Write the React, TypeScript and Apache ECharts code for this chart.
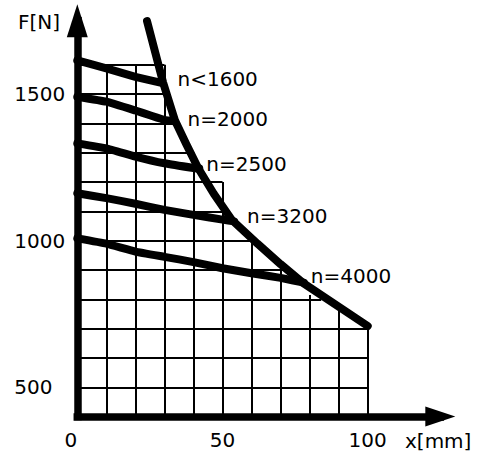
import React, { useEffect, useRef } from "react";
import * as echarts from "echarts";

// ---- data (x in mm, F in N) ----
const curveNames = ["n<1600", "n=2000", "n=2500", "n=3200", "n=4000"];

const n1600X = [0, 10, 20, 29];
const n1600Y = [1615, 1588, 1559, 1538];

const n2000X = [0, 10, 20, 25, 30, 33.5];
const n2000Y = [1491, 1474, 1444, 1428, 1412, 1407];

const n2500X = [0, 10, 20, 30, 40, 42];
const n2500Y = [1332, 1315, 1287, 1264, 1248, 1246];

const n3200X = [0, 10, 20, 30, 40, 50, 54];
const n3200Y = [1162, 1145, 1126, 1105, 1088, 1072, 1066];

const n4000X = [0, 10, 20, 30, 40, 50, 60, 70, 78];
const n4000Y = [1008, 990, 963, 945, 927, 906, 889, 873, 857];

const limitX = [24, 29.5, 33.6, 37.5, 41.6, 47, 53.3, 62, 70, 77.7, 100];
const limitY = [1749, 1541, 1411, 1330, 1248, 1160, 1070, 990, 920, 856, 709];

// grid: vertical lines (x) with their top value, horizontal lines (F) with their right end
const gridXs = [10, 20, 30, 40, 50, 60, 70, 80, 90, 100];
const gridXTops = [1600, 1600, 1600, 1300, 1200, 1000, 900, 815, 765, 709];
const gridYs = [500, 600, 700, 800, 900, 1000, 1100, 1200, 1300, 1400, 1500, 1600];
const gridYRights = [100, 100, 100, 84, 72, 60, 50, 50, 40, 35, 30, 30];

const xTickLabels = [0, 50, 100];
const yTickLabels = [500, 1000, 1500];

// ---- style ----
const FONT = "DejaVu Sans";
const labelOffsets: number[][] = [
  [16, -4],
  [13, -2],
  [7, -5],
  [13, -5],
  [7, -7],
];

const curvesX = [n1600X, n2000X, n2500X, n3200X, n4000X];
const curvesY = [n1600Y, n2000Y, n2500Y, n3200Y, n4000Y];

export default function App() {
  const ref = useRef<HTMLDivElement>(null);

  useEffect(() => {
    if (!ref.current) return;
    const chart = echarts.init(ref.current, undefined, { renderer: "svg" });

    const gridSegments = [
      ...gridXs.map((x, i) => ({ coords: [[x, 400], [x, gridXTops[i]]] })),
      ...gridYs.map((y, i) => ({ coords: [[0, y], [gridYRights[i], y]] })),
    ];

    const curveSeries = curveNames.map((name, k) => ({
      type: "line",
      name,
      data: curvesX[k].map((x, i) => [x, curvesY[k][i]]),
      symbol: "none",
      showSymbol: false,
      smooth: 0.1,
      lineStyle: { color: "#000", width: 8, cap: "round", join: "round" },
      z: 3,
      silent: true,
    }));

    const labelData = curveNames.map((name, k) => {
      const xs = curvesX[k];
      const ys = curvesY[k];
      return {
        name,
        value: [xs[xs.length - 1], ys[ys.length - 1]],
        label: { offset: labelOffsets[k] },
      };
    });

    const textStyle = { fontSize: 20, fontFamily: FONT, color: "#000" };

    const option: any = {
      animation: false,
      backgroundColor: "#fff",
      grid: { left: 77.3, top: 20.8, width: 363, height: 395.8, containLabel: false },
      xAxis: {
        type: "value",
        min: 0,
        max: 125,
        axisLine: {
          show: true,
          onZero: false,
          symbol: ["none", "triangle"],
          symbolSize: [20, 30],
          lineStyle: { color: "#000", width: 7.5, cap: "square" },
        },
        axisTick: { show: false },
        splitLine: { show: false },
        axisLabel: {
          customValues: xTickLabels,
          margin: 13,
          alignMinLabel: "right",
          formatter: (v: number) => String(v),
          ...textStyle,
        },
      },
      yAxis: {
        type: "value",
        min: 400,
        max: 1750,
        axisLine: {
          show: true,
          onZero: false,
          symbol: ["none", "triangle"],
          symbolSize: [21, 33],
          lineStyle: { color: "#000", width: 7.5, cap: "square" },
        },
        axisTick: { show: false },
        splitLine: { show: false },
        axisLabel: {
          customValues: yTickLabels,
          align: "left",
          margin: 63,
          formatter: (v: number) => String(v),
          ...textStyle,
        },
      },
      graphic: [
        {
          type: "text",
          x: 18,
          y: 22,
          style: { text: "F[N]", fontSize: 20, fontFamily: FONT, fill: "#000", align: "left", verticalAlign: "middle" },
        },
        {
          type: "text",
          x: 405,
          y: 441,
          style: { text: "x[mm]", fontSize: 20, fontFamily: FONT, fill: "#000", align: "left", verticalAlign: "middle" },
        },
      ],
      series: [
        {
          type: "lines",
          coordinateSystem: "cartesian2d",
          data: gridSegments,
          lineStyle: { color: "#000", width: 2, opacity: 1, curveness: 0 },
          silent: true,
          z: 1,
        },
        ...curveSeries,
        {
          type: "line",
          name: "limit",
          data: limitX.map((x, i) => [x, limitY[i]]),
          symbol: "none",
          showSymbol: false,
          lineStyle: { color: "#000", width: 8, cap: "round", join: "round" },
          z: 4,
          silent: true,
        },
        {
          type: "scatter",
          data: labelData,
          symbolSize: 0,
          itemStyle: { color: "rgba(0,0,0,0)" },
          label: {
            show: true,
            position: "right",
            distance: 0,
            formatter: "{b}",
            opacity: 1,
            ...textStyle,
          },
          z: 5,
          silent: true,
        },
      ],
    };

    chart.setOption(option);
    return () => chart.dispose();
  }, []);

  return (
    <div
      ref={ref}
      style={{ position: "fixed", left: 0, top: 0, width: 488, height: 457 }}
    />
  );
}
